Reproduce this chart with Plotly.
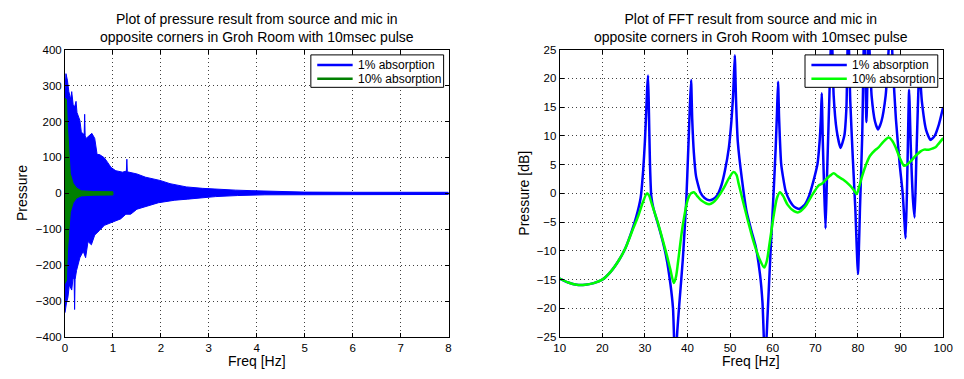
import plotly.graph_objects as go

# ---- Time-domain pressure (envelope of the decaying response) ----
# 1% absorption: upper / lower envelope of the pressure trace
blue_t_up = [0.0, 0.02, 0.05, 0.08, 0.12, 0.14, 0.17, 0.20, 0.23, 0.25, 0.31, 0.34, 0.38, 0.40,
             0.41, 0.42, 0.44, 0.51, 0.56, 0.62, 0.67, 0.72, 0.82, 0.89, 0.96, 1.06, 1.20, 1.28,
             1.29, 1.30, 1.50, 1.68, 1.85, 1.98, 2.19, 2.53, 2.87, 3.21, 3.56, 3.90, 4.5, 5.0, 6.0, 8.0]
blue_up = [290, 333, 315, 283, 261, 283, 247, 240, 256, 225, 203, 171, 165, 165,
           220, 160, 153, 162, 167, 153, 108, 108, 99, 86, 72, 63, 59, 62,
           95, 60, 54, 45, 41, 36, 27, 18, 14, 11, 9, 7.5, 5, 3.5, 3, 3]
blue_t_lo = [0.0, 0.03, 0.06, 0.09, 0.12, 0.14, 0.17, 0.19, 0.20, 0.21, 0.24, 0.31, 0.38, 0.43,
             0.48, 0.55, 0.62, 0.72, 0.82, 0.92, 1.06, 1.16, 1.27, 1.37, 1.50, 1.68, 1.95, 2.29,
             2.56, 3.14, 3.6, 4.17, 5.0, 6.0, 8.0]
blue_lo = [-332, -305, -290, -255, -262, -269, -233, -240, -323, -240, -215, -179, -161, -179,
           -134, -143, -116, -103, -89, -85, -76, -71, -58, -58, -44, -36, -26, -19,
           -16, -9, -6, -4, -3, -3, -3]

# 10% absorption: upper / lower envelope
green_t = [0.0, 0.03, 0.05, 0.08, 0.11, 0.17, 0.24, 0.34, 0.6, 1.0]
green_up = [265, 261, 189, 117, 55, 28, 15, 7, 5, 4.5]
green_lo = [-251, -242, -161, -107, -53, -26, -13, -7, -5, -4.5]

# ---- FFT magnitude [dB] ----
f_1pct = [10, 12, 14, 16, 18, 20, 22, 24, 25.5, 27, 28, 29, 29.6, 30.0, 30.3, 30.55, 30.75, 30.95,
          31.2, 31.5, 32.0, 33.1, 34.0, 35.0, 36.0, 36.6, 37.1, 37.6, 38.1, 38.9, 39.7, 40.2,
          40.55, 40.85, 41.1, 41.5, 42.0, 43.0, 44.0, 45.1, 46.0, 47.0, 48.0, 48.8, 49.7, 50.3,
          50.7, 51.1, 51.4, 51.8, 52.8, 53.9, 55.0, 56.0, 57.0, 57.6, 58.2, 58.8, 59.5, 60.2,
          60.7, 61.0, 61.25, 61.5, 62.0, 63.0, 64.0, 65.0, 66.2, 67.5, 68.5, 69.5, 70.5, 71.0,
          71.3, 71.5, 71.75, 72.1, 72.4, 72.7, 73.1, 73.5, 73.8, 74.3, 75.0, 75.9, 76.8, 77.3,
          77.7, 78.2, 78.8, 79.4, 80.0, 80.5, 81.0, 81.5, 82.0, 82.5, 83.2, 84.0, 84.7, 85.5,
          86.5, 87.2, 87.6, 88.2, 88.9, 89.8, 90.5, 91.2, 91.6, 92.0, 92.4, 92.9, 93.3, 93.7,
          94.1, 94.4, 95.0, 96.0, 97.0, 98.0, 99.0, 100.0]
db_1pct = [-14.8, -15.5, -15.9, -15.9, -15.6, -15.0, -13.6, -11.5, -9.4, -6.4, -4.0, -0.8, 4.0, 9.0,
           14.0, 18.5, 20.5, 14.0, 5.0, -0.5, -2.6, -5.4, -7.8, -11.0, -15.8, -20.0, -30.0, -24.0,
           -19.0, -11.5, -1.5, 8.0, 15.0, 19.7, 13.0, 7.0, 3.0, 0.2, -0.8, -1.2, -1.0, -0.3, 1.5,
           4.0, 7.9, 12.5, 17.0, 24.0, 16.0, 9.0, 2.3, -3.3, -6.5, -9.2, -14.0, -19.0, -30.0, -21.0,
           -10.0, 0.0, 8.0, 14.0, 19.4, 13.0, 5.0, 0.5, -1.3, -2.3, -2.7, -2.0, -0.5, 2.0, 5.1,
           9.0, 13.0, 17.4, 9.0, 0.0, -6.1, 2.0, 12.0, 22.0, 30.0, 17.0, 11.0, 7.9, 10.0, 15.0,
           30.0, 16.0, 6.0, -3.0, -14.0, -2.0, 10.0, 30.0, 12.4, 28.0, 17.0, 12.5, 11.1, 12.5,
           17.0, 25.0, 32.0, 22.0, 13.0, 5.0, 0.0, -7.8, 4.0, 18.0, 8.0, -1.0, -4.2, 6.0,
           16.0, 22.0, 16.0, 11.0, 9.3, 10.0, 12.0, 15.0]

f_10pct = [10, 12, 14, 16, 18, 20, 22, 24, 25.5, 27, 28.5, 29.5, 30.5, 31.0, 31.6, 33.1, 34.0, 35.1,
           36.0, 36.8, 37.3, 37.8, 38.9, 40.1, 40.8, 41.5, 42.2, 43.2, 45.1, 46.0, 47.0, 48.5,
           49.7, 50.8, 51.5, 52.0, 53.5, 55.5, 57.0, 58.0, 58.6, 59.3, 60.2, 61.0, 61.7, 62.4,
           63.5, 65.0, 66.0, 67.5, 69.0, 70.8, 71.6, 72.6, 73.5, 74.3, 75.2, 76.5, 78.1, 79.0,
           79.7, 80.3, 80.9, 81.8, 82.8, 84.0, 84.7, 86.0, 87.2, 88.0, 88.9, 89.8, 90.8, 91.5,
           92.4, 93.5, 94.7, 95.5, 96.6, 97.5, 98.2, 99.0, 100.0]
db_10pct = [-14.8, -15.5, -15.9, -15.9, -15.6, -15.0, -13.6, -11.5, -9.4, -6.6, -3.8, -1.6, 0.0, -0.4,
            -1.8, -5.2, -7.6, -10.6, -13.3, -15.6, -14.5, -11.8, -5.5, -1.0, 0.0, 0.2, -0.4, -1.2,
            -1.9, -1.6, -0.8, 0.9, 2.6, 3.7, 3.2, 1.7, -2.8, -8.4, -11.6, -12.9, -11.8, -8.5, -4.0,
            -0.8, 0.2, -0.4, -2.0, -3.1, -3.3, -2.4, -0.6, 1.4, 1.7, 2.5, 3.1, 3.5, 3.0, 2.4, 1.4,
            0.6, -0.1, 1.2, 2.8, 4.8, 6.5, 7.5, 7.9, 9.0, 9.7, 9.2, 7.9, 6.2, 4.8, 5.0, 5.6, 6.5,
            7.3, 7.6, 7.6, 7.8, 8.0, 8.7, 9.6]

left_xticks = list(range(0, 9))
left_yticks = list(range(-400, 401, 100))
right_xticks = list(range(10, 101, 10))
right_yticks = list(range(-25, 26, 5))
legend_labels = ["1% absorption", "10% absorption"]

W, H = 964, 379
FONT = "Liberation Sans, Arial, Helvetica, sans-serif"
BLUE = "#0000ff"
DKGREEN = "#008000"
LTGREEN = "#00ff00"


def px_x(p):
    return p / W


def px_y(p):
    return (H - p) / H


fig = go.Figure()

# left: filled envelopes of the time signal
fig.add_trace(go.Scatter(
    x=blue_t_up + blue_t_lo[::-1], y=blue_up + blue_lo[::-1],
    fill="toself", fillcolor=BLUE, mode="lines", line=dict(color=BLUE, width=1),
    name=legend_labels[0], showlegend=False, hoverinfo="skip", xaxis="x", yaxis="y"))
fig.add_trace(go.Scatter(
    x=green_t + green_t[::-1], y=green_up + green_lo[::-1],
    fill="toself", fillcolor=DKGREEN, mode="lines", line=dict(color=DKGREEN, width=1),
    name=legend_labels[1], showlegend=False, hoverinfo="skip", xaxis="x", yaxis="y"))

# right: FFT curves
fig.add_trace(go.Scatter(x=f_1pct, y=db_1pct, mode="lines", name=legend_labels[0],
                         line=dict(color=BLUE, width=2.5, shape="spline", smoothing=0.5),
                         showlegend=False, xaxis="x2", yaxis="y2"))
fig.add_trace(go.Scatter(x=f_10pct, y=db_10pct, mode="lines", name=legend_labels[1],
                         line=dict(color=LTGREEN, width=2.5, shape="spline", smoothing=0.8),
                         showlegend=False, xaxis="x2", yaxis="y2"))

y_dom = [px_y(342), px_y(45)]
axis_common = dict(
    showline=True, linecolor="black", linewidth=1, mirror="ticks",
    ticks="inside", ticklen=4, tickcolor="black", tickwidth=1,
    showgrid=True, gridcolor="#404040", gridwidth=1, griddash="1px,3px",
    zeroline=False, tickfont=dict(family=FONT, size=11.5, color="black"),
)

fig.update_layout(
    width=W, height=H, margin=dict(l=0, r=0, t=0, b=0),
    paper_bgcolor="white", plot_bgcolor="white",
    font=dict(family=FONT, color="black"),
    xaxis=dict(domain=[px_x(60), px_x(450)], range=[0, 8], tickvals=left_xticks,
               anchor="y", **axis_common),
    yaxis=dict(domain=y_dom, range=[-400, 400], tickvals=left_yticks,
               anchor="x", **axis_common),
    xaxis2=dict(domain=[px_x(563), px_x(953)], range=[10, 100], tickvals=right_xticks,
                anchor="y2", **axis_common),
    yaxis2=dict(domain=y_dom, range=[-25, 25], tickvals=right_yticks,
                anchor="x2", **axis_common),
    showlegend=False,
)

# legend boxes (opaque, drawn over the curves)
legend_boxes = [(310, 445, [BLUE, DKGREEN]), (812.5, 947.5, [BLUE, LTGREEN])]
for x0, x1, colors in legend_boxes:
    fig.add_shape(type="rect", xref="paper", yref="paper", layer="above",
                  x0=px_x(x0), x1=px_x(x1), y0=px_y(84), y1=px_y(50.5),
                  fillcolor="white", line=dict(color="black", width=1))
    for i, (lab, col) in enumerate(zip(legend_labels, colors)):
        yy = 61 + 14 * i
        fig.add_shape(type="line", xref="paper", yref="paper", layer="above",
                      x0=px_x(x0 + 6.5), x1=px_x(x0 + 42.5), y0=px_y(yy), y1=px_y(yy),
                      line=dict(color=col, width=2.5))
        fig.add_annotation(x=px_x(x0 + 45.5), y=px_y(yy), xref="paper", yref="paper",
                           text=lab, showarrow=False, xanchor="left", yanchor="middle",
                           font=dict(family=FONT, size=12, color="black"))

titles = [
    (255, "Plot of pressure result from source and mic in<br>opposite corners in Groh Room with 10msec pulse"),
    (758, "Plot of FFT result from source and mic in<br>opposite corners in Groh Room with 10msec pulse"),
]
for cx, txt in titles:
    fig.add_annotation(x=px_x(cx), y=px_y(22.5), xref="paper", yref="paper", text=txt,
                       showarrow=False, xanchor="center", yanchor="middle",
                       font=dict(family=FONT, size=14, color="black"))

# axis labels
for cx, txt in [(255, "Freq [Hz]"), (758, "Freq [Hz]")]:
    fig.add_annotation(x=px_x(cx), y=px_y(367), xref="paper", yref="paper", text=txt,
                       showarrow=False, xanchor="center", yanchor="middle",
                       font=dict(family=FONT, size=14, color="black"))
for cx, txt in [(17, "Pressure"), (527, "Pressure [dB]")]:
    fig.add_annotation(x=px_x(cx), y=px_y(193.5), xref="paper", yref="paper", text=txt,
                       showarrow=False, xanchor="center", yanchor="middle", textangle=-90,
                       font=dict(family=FONT, size=14, color="black"))

fig.write_html("out.html")
